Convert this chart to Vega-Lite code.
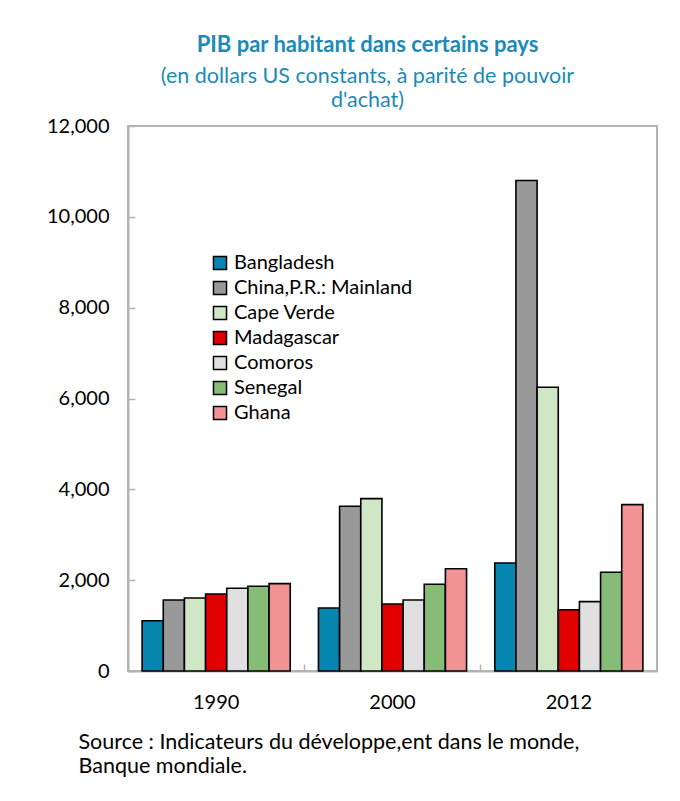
{
  "$schema": "https://vega.github.io/schema/vega-lite/v6.json",
  "autosize": {"type": "none"},
  "padding": {"left": 128, "top": 126, "right": 23, "bottom": 130},
  "width": 529,
  "height": 545,
  "background": "white",
  "config": {
    "font": "Lato",
    "view": {"stroke": "#b3b3b3", "strokeWidth": 2}
  },
  "title": {
    "text": "PIB par habitant dans certains pays",
    "subtitle": ["(en dollars US constants, à parité de pouvoir", "d'achat)"],
    "anchor": "middle",
    "frame": "group",
    "dx": -25,
    "offset": 4,
    "font": "Lato",
    "fontSize": 22,
    "fontWeight": "bold",
    "color": "#1a8ab8",
    "subtitleFont": "Lato",
    "subtitleFontSize": 21.5,
    "subtitleColor": "#1a8ab8",
    "subtitleLineHeight": 24,
    "subtitlePadding": 9
  },
  "data": {
    "values": [
      {"year": "1990", "country": "Bangladesh", "value": 1108},
      {"year": "1990", "country": "China,P.R.: Mainland", "value": 1564},
      {"year": "1990", "country": "Cape Verde", "value": 1608},
      {"year": "1990", "country": "Madagascar", "value": 1696},
      {"year": "1990", "country": "Comoros", "value": 1821},
      {"year": "1990", "country": "Senegal", "value": 1865},
      {"year": "1990", "country": "Ghana", "value": 1923},
      {"year": "2000", "country": "Bangladesh", "value": 1388},
      {"year": "2000", "country": "China,P.R.: Mainland", "value": 3628},
      {"year": "2000", "country": "Cape Verde", "value": 3795},
      {"year": "2000", "country": "Madagascar", "value": 1476},
      {"year": "2000", "country": "Comoros", "value": 1564},
      {"year": "2000", "country": "Senegal", "value": 1909},
      {"year": "2000", "country": "Ghana", "value": 2253},
      {"year": "2012", "country": "Bangladesh", "value": 2379},
      {"year": "2012", "country": "China,P.R.: Mainland", "value": 10800},
      {"year": "2012", "country": "Cape Verde", "value": 6249},
      {"year": "2012", "country": "Madagascar", "value": 1350},
      {"year": "2012", "country": "Comoros", "value": 1527},
      {"year": "2012", "country": "Senegal", "value": 2174},
      {"year": "2012", "country": "Ghana", "value": 3663}
    ]
  },
  "mark": {"type": "bar", "stroke": "black", "strokeWidth": 1.6},
  "encoding": {
    "x": {
      "field": "year",
      "type": "nominal",
      "scale": {"paddingInner": 0.16, "paddingOuter": 0.08},
      "axis": {
        "title": ["Source :  Indicateurs du développe,ent dans le monde,", "Banque mondiale."],
        "titleFont": "Lato",
        "titleFontSize": 21.5,
        "titleFontWeight": "normal",
        "titleColor": "black",
        "titleAnchor": "start",
        "titleAlign": "left",
        "titleBaseline": "top",
        "titleLineHeight": 24,
        "titleX": -50,
        "titleY": 60,
        "labelAngle": 0,
        "labelFont": "Lato",
        "labelFontSize": 20,
        "labelColor": "black",
        "labelPadding": 28,
        "domainColor": "#b3b3b3",
        "domainWidth": 2,
        "tickColor": "#b3b3b3",
        "tickWidth": 1.5,
        "tickSize": -7,
        "bandPosition": -0.095
      }
    },
    "xOffset": {
      "field": "country",
      "type": "nominal",
      "sort": ["Bangladesh", "China,P.R.: Mainland", "Cape Verde", "Madagascar", "Comoros", "Senegal", "Ghana"],
      "scale": {"paddingInner": 0, "paddingOuter": 0}
    },
    "y": {
      "field": "value",
      "type": "quantitative",
      "scale": {"domain": [0, 12000], "nice": false},
      "axis": {
        "title": null,
        "values": [0, 2000, 4000, 6000, 8000, 10000, 12000],
        "format": ",.0f",
        "grid": false,
        "labelFont": "Lato",
        "labelFontSize": 20,
        "labelColor": "black",
        "labelPadding": 26,
        "domainColor": "#b3b3b3",
        "domainWidth": 2,
        "tickColor": "#b3b3b3",
        "tickWidth": 1.5,
        "tickSize": -7
      }
    },
    "fill": {
      "field": "country",
      "type": "nominal",
      "sort": ["Bangladesh", "China,P.R.: Mainland", "Cape Verde", "Madagascar", "Comoros", "Senegal", "Ghana"],
      "scale": {
        "domain": ["Bangladesh", "China,P.R.: Mainland", "Cape Verde", "Madagascar", "Comoros", "Senegal", "Ghana"],
        "range": ["#0787b0", "#999999", "#cfe7c5", "#e00000", "#e0e0e0", "#86bc76", "#f39292"]
      },
      "legend": {
        "title": null,
        "orient": "none",
        "legendX": 82,
        "legendY": 127,
        "symbolType": "square",
        "symbolSize": 170,
        "symbolStrokeColor": "black",
        "symbolStrokeWidth": 1.5,
        "labelFont": "Lato",
        "labelFontSize": 20,
        "labelColor": "black",
        "labelOffset": 4,
        "labelLimit": 400,
        "rowPadding": 5
      }
    }
  }
}
